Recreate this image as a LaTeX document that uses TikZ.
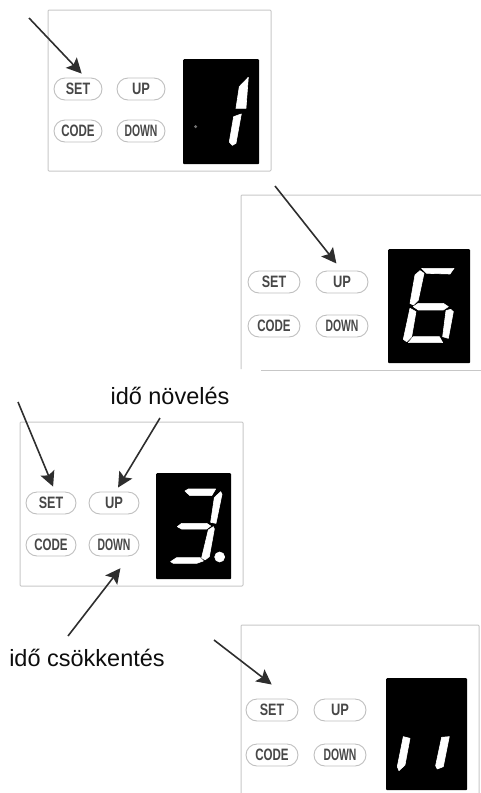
\documentclass[tikz,border=0pt]{standalone}
\usepackage{fontspec}
\setmainfont{Liberation Sans}
\usetikzlibrary{arrows.meta,shapes.misc}
\newcommand\btnlabel[2]{\scalebox{#1}[1]{\fontsize{16.5}{16.5}\bfseries\selectfont #2}}
\tikzset{
  x=1pt,y=-1pt,
  panel/.style={draw=black!22,line width=1pt,rounded corners=1pt},
  pill/.style={rounded rectangle,draw=black!25,line width=0.9pt,minimum width=#1,minimum height=22pt,inner sep=0pt,text=black!72},
  pill/.default=50pt,
  display/.style={fill=black,rounded corners=1pt,inner sep=0pt,anchor=north west},
  seg/.style={fill=white,draw=white,line width=0.6pt,line join=round},
  pointer/.style={draw=black!82,line width=1.6pt,-{Stealth[length=15pt,width=15pt,inset=3pt]}},
  caption/.style={font=\fontsize{23.5}{24}\selectfont,inner sep=0pt,text=black!95},
}
\begin{document}
\begin{tikzpicture}
\useasboundingbox (0,0) rectangle (481,793);

% --- Panel 1
\node[panel,draw,minimum width=223pt,minimum height=161pt,inner sep=0pt] (panelA) at (159.5,90.5) {};
\node[display,minimum width=76pt,minimum height=105pt] (dispA) at (183,59) {};
\node[pill=48pt] (setA) at (78,89) {\btnlabel{.76}{SET}};
\node[pill=48pt] (upA) at (141,89) {\btnlabel{.78}{UP}};
\node[pill=48pt] (codeA) at (78,131) {\btnlabel{.7}{CODE}};
\node[pill=48pt] (downA) at (141,131) {\btnlabel{.63}{DOWN}};
\begin{scope}[x=0.3333pt,y=-0.3333pt]
  \path[seg] (745,232) -- (738,325) -- (708,325) -- (718,260) -- cycle;
  \path[seg] (724,342) -- (708,430) -- (697,436) -- (688,426) -- (701,350) -- cycle;
  \fill[black!55] (587,380) circle (5);
\end{scope}
\coordinate (startA) at (29,18);
\draw[pointer,shorten >=5.5pt] (startA) -- (setA.57);

% --- Panel 2
\draw[panel] (241,369) -- (241,195) -- (481,195);
\draw[panel] (261,370) -- (481,370);
\node[display,minimum width=82pt,minimum height=114pt] (dispB) at (388,249) {};
\node[pill=52pt] (setB) at (274,282) {\btnlabel{.76}{SET}};
\node[pill=52pt] (upB) at (342,282) {\btnlabel{.78}{UP}};
\node[pill=52pt] (codeB) at (274,326) {\btnlabel{.7}{CODE}};
\node[pill=52pt] (downB) at (342,326) {\btnlabel{.63}{DOWN}};
\begin{scope}[shift={(380,240)},x=0.3333pt,y=-0.3333pt]
  \path[seg] (125,85) -- (222,85) -- (210,102) -- (140,100) -- cycle;
  \path[seg] (120,92) -- (132,100) -- (115,180) -- (100,195) -- (90,190) -- (105,105) -- cycle;
  \path[seg] (100,200) -- (115,190) -- (190,190) -- (205,200) -- (190,210) -- (115,210) -- cycle;
  \path[seg] (90,205) -- (108,215) -- (95,290) -- (80,305) -- (70,298) -- cycle;
  \path[seg] (212,208) -- (220,215) -- (205,295) -- (188,290) -- (198,212) -- cycle;
  \path[seg] (85,308) -- (100,290) -- (178,290) -- (188,308) -- cycle;
\end{scope}
\coordinate (startB) at (275,186);
\draw[pointer,shorten >=9pt] (startB) -- (upB.north);

% --- Panel 3
\node[panel,draw,minimum width=223pt,minimum height=164pt,inner sep=0pt] (panelC) at (131.5,504) {};
\node[display,minimum width=75pt,minimum height=106pt] (dispC) at (156,473) {};
\node[pill=50pt] (setC) at (51,503) {\btnlabel{.76}{SET}};
\node[pill=50pt] (upC) at (114,503) {\btnlabel{.78}{UP}};
\node[pill=50pt] (codeC) at (51,545) {\btnlabel{.7}{CODE}};
\node[pill=50pt] (downC) at (114,545) {\btnlabel{.63}{DOWN}};
\begin{scope}[shift={(150,465)},x=0.3333pt,y=-0.3333pt]
  \path[seg] (105,78) -- (115,72) -- (197,72) -- (185,92) -- (120,92) -- cycle;
  \path[seg] (212,80) -- (216,88) -- (198,175) -- (182,172) -- (193,98) -- cycle;
  \path[seg] (82,185) -- (95,175) -- (170,175) -- (182,183) -- (170,192) -- (95,192) -- cycle;
  \path[seg] (175,195) -- (190,185) -- (193,192) -- (178,275) -- (165,285) -- (155,278) -- cycle;
  \path[seg] (62,290) -- (80,278) -- (150,278) -- (160,288) -- (140,295) -- (70,295) -- cycle;
  \path[seg] (209,276) circle (15);
\end{scope}
\node[caption] (labelUp) at (170,396) {idő növelés};
\node[caption] (labelDown) at (87,658) {idő csökkentés};
\coordinate (startC) at (18,402);
\draw[pointer,shorten >=5.4pt] (startC) -- (setC.70);
\coordinate (startUp) at (160,418);
\draw[pointer,shorten >=4.7pt] (startUp) -- (upC.82);
\coordinate (startDown) at (68,636);
\draw[pointer,shorten >=15pt] (startDown) -- (downC.-36);

% --- Panel 4
\draw[panel] (241,793) -- (241,625) -- (479,625) -- (479,793);
\node[display,minimum width=81pt,minimum height=112pt] (dispD) at (386,678) {};
\node[pill=52pt] (setD) at (272,710) {\btnlabel{.76}{SET}};
\node[pill=52pt] (upD) at (340,710) {\btnlabel{.78}{UP}};
\node[pill=52pt] (codeD) at (272,755) {\btnlabel{.7}{CODE}};
\node[pill=52pt] (downD) at (340,755) {\btnlabel{.63}{DOWN}};
\begin{scope}[shift={(200,620)},x=0.3333pt,y=-0.3333pt]
  \path[seg] (610,350) -- (630,355) -- (615,435) -- (597,452) -- (592,440) -- cycle;
  \path[seg] (725,352) -- (748,350) -- (730,440) -- (712,447) -- (707,437) -- cycle;
\end{scope}
\coordinate (startD) at (214,640);
\draw[pointer,shorten >=24pt] (startD) -- (setD.30);
\end{tikzpicture}
\end{document}
